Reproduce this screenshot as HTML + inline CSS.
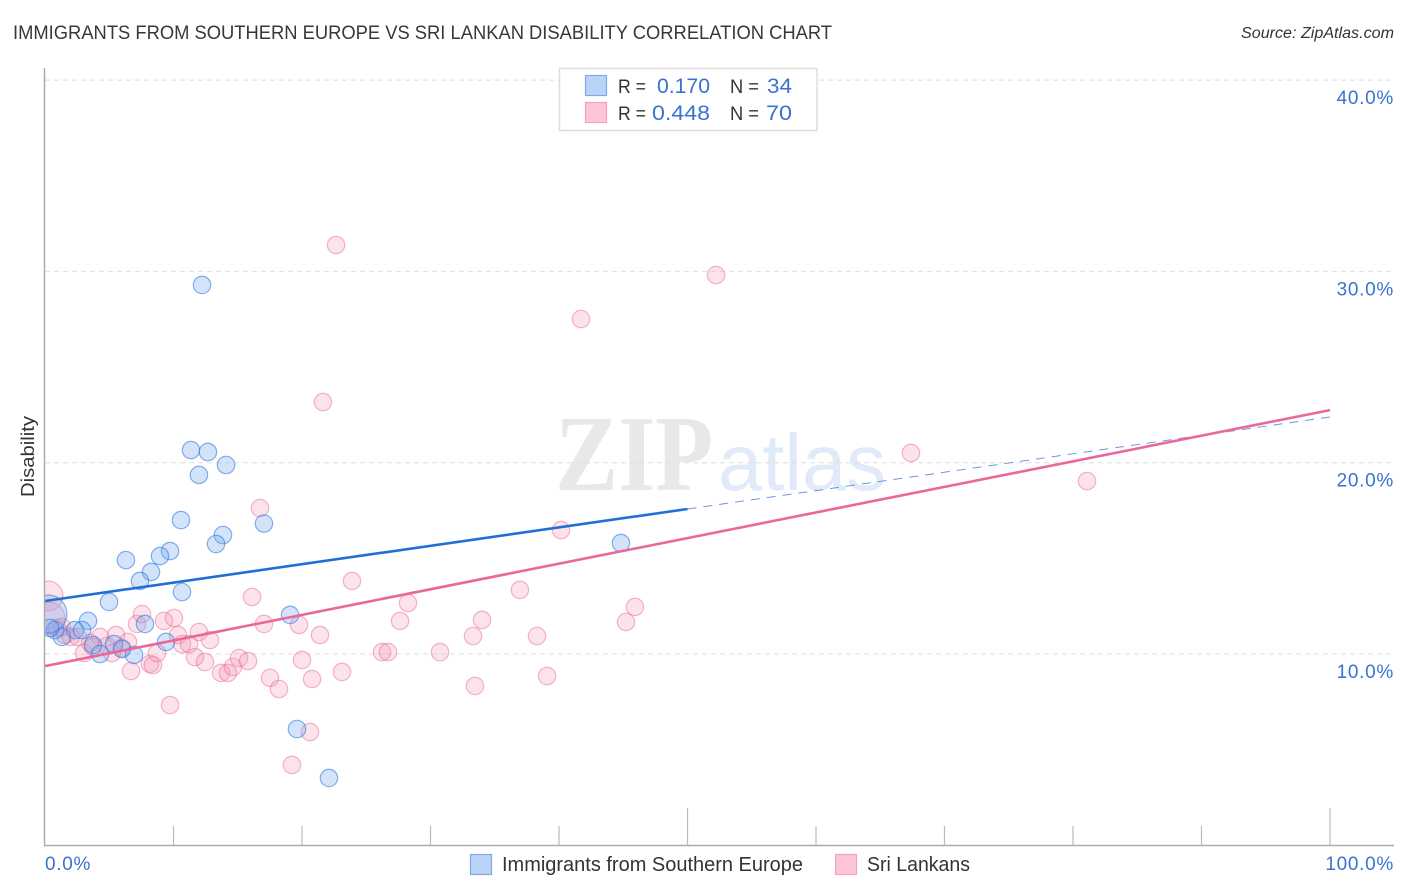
<!DOCTYPE html>
<html lang="en">
<head>
<meta charset="utf-8">
<title>Immigrants from Southern Europe vs Sri Lankan Disability Correlation Chart</title>
<style>
html,body{margin:0;padding:0;background:#fff;width:1406px;height:892px;overflow:hidden}
svg{display:block}
text{font-family:"Liberation Sans",sans-serif}
</style>
</head>
<body>
<svg id="chart" width="1406" height="892" viewBox="0 0 1406 892" xmlns="http://www.w3.org/2000/svg">
  <rect x="0" y="0" width="1406" height="892" fill="#fff"/>
  <text x="13" y="39" font-size="19" fill="#383838" textLength="819" lengthAdjust="spacingAndGlyphs">IMMIGRANTS FROM SOUTHERN EUROPE VS SRI LANKAN DISABILITY CORRELATION CHART</text>
  <text x="1394" y="38" font-size="15.5" font-style="italic" fill="#333" text-anchor="end" textLength="153" lengthAdjust="spacingAndGlyphs">Source: ZipAtlas.com</text>

  <g>
    <text x="555" y="490" font-size="108" font-weight="bold" style="font-family:'Liberation Serif',serif" fill="#e8e8e8" textLength="158" lengthAdjust="spacingAndGlyphs">ZIP</text>
    <text x="718" y="490" font-size="80" fill="#e0eaf9" textLength="168" lengthAdjust="spacingAndGlyphs">atlas</text>
  </g>

  <g id="grid"></g>
  <svg x="45" y="60" width="1350" height="785" viewBox="45 60 1350 785" overflow="hidden">
    <g id="pink-points"></g>
    <g id="blue-points"></g>
    <g id="trends"></g>
  </svg>

  <line x1="44.5" y1="68" x2="44.5" y2="845.5" stroke="#aaa" stroke-width="1.5"/>
  <line x1="44" y1="845.5" x2="1394" y2="845.5" stroke="#aaa" stroke-width="1.5"/>
  <g id="x-ticks"></g>
  <g id="y-labels"></g>
  <g id="x-labels"></g>

  <text transform="translate(34,456.5) rotate(-90)" font-size="18" fill="#333" text-anchor="middle" textLength="81" lengthAdjust="spacingAndGlyphs">Disability</text>

  <g>
    <rect x="559.5" y="68.5" width="257.5" height="62" fill="#fff" stroke="#ddd" stroke-width="1.5"/>
    <rect x="585.5" y="75.5" width="21" height="20" fill="#b9d4f7" stroke="#7faae6" stroke-width="1.2"/>
    <rect x="585.5" y="102.5" width="21" height="20" fill="#fcc6d8" stroke="#f2a3bf" stroke-width="1.2"/>
    <text x="618" y="93" font-size="19" fill="#333" textLength="28" lengthAdjust="spacingAndGlyphs">R =</text>
    <text x="657" y="93" font-size="21" fill="#3a72d0" textLength="53" lengthAdjust="spacingAndGlyphs">0.170</text>
    <text x="730" y="93" font-size="19" fill="#333" textLength="29" lengthAdjust="spacingAndGlyphs">N =</text>
    <text x="767" y="93" font-size="21" fill="#3a72d0" textLength="25" lengthAdjust="spacingAndGlyphs">34</text>
    <text x="618" y="120" font-size="19" fill="#333" textLength="28" lengthAdjust="spacingAndGlyphs">R =</text>
    <text x="652" y="120" font-size="21" fill="#3a72d0" textLength="58" lengthAdjust="spacingAndGlyphs">0.448</text>
    <text x="730" y="120" font-size="19" fill="#333" textLength="29" lengthAdjust="spacingAndGlyphs">N =</text>
    <text x="766" y="120" font-size="21" fill="#3a72d0" textLength="26" lengthAdjust="spacingAndGlyphs">70</text>
  </g>

  <g>
    <g>
      <rect x="470.5" y="854.5" width="21" height="20" fill="#b9d4f7" stroke="#7faae6" stroke-width="1.2"/>
      <text x="502" y="871" font-size="20" fill="#333" textLength="301" lengthAdjust="spacingAndGlyphs">Immigrants from Southern Europe</text>
    </g>
    <g>
      <rect x="835.5" y="854.5" width="21" height="20" fill="#fcc6d8" stroke="#f2a3bf" stroke-width="1.2"/>
      <text x="867" y="871" font-size="20" fill="#333" textLength="103" lengthAdjust="spacingAndGlyphs">Sri Lankans</text>
    </g>
  </g>
</svg>
<script>
const blueX = [12.22,11.36,12.68,14.09,11.98,10.58,17.04,13.85,13.31,44.82,9.73,8.95,6.30,8.25,7.39,10.66,4.98,19.07,3.35,7.78,2.33,2.88,9.42,3.74,5.37,5.99,4.28,6.93,19.61,22.10,1.32,0.78,0.23,0.39];
const blueY = [29.29,20.66,20.56,19.88,19.36,17.00,16.82,16.22,15.75,15.80,15.38,15.12,14.91,14.29,13.82,13.24,12.72,12.04,11.73,11.57,11.25,11.25,10.63,10.47,10.52,10.26,10.00,9.95,6.08,3.52,10.89,11.25,12.09,11.36];
const blueSize = [1,1,1,1,1,1,1,1,1,1,1,1,1,1,1,1,1,1,1,1,1,1,1,1,1,1,1,1,1,1,1,1,4.77,1];

const pinkX = [0.23,0.31,0.93,1.56,2.02,4.28,5.53,6.46,3.04,3.74,4.82,5.21,5.99,6.69,8.17,8.40,8.72,7.16,7.55,9.26,10.04,10.35,10.66,11.21,11.98,12.84,11.67,12.45,13.70,14.24,14.63,15.10,15.80,17.51,18.21,9.73,16.11,17.04,19.77,21.40,20.00,20.78,23.11,23.89,26.23,26.69,20.62,19.22,27.63,22.65,52.22,41.71,21.63,67.39,81.09,40.16,16.73,36.96,28.25,45.91,45.21,34.01,33.31,38.29,30.74,39.07,33.46,1.32,2.57,3.50];
const pinkY = [13.03,11.88,11.36,10.99,10.89,10.89,10.99,10.63,10.05,10.37,10.42,10.05,10.31,9.11,9.48,9.42,10.05,11.57,12.09,11.73,11.88,10.99,10.52,10.52,11.15,10.73,9.84,9.58,9.01,9.01,9.32,9.79,9.63,8.75,8.17,7.33,12.98,11.57,11.52,10.99,9.69,8.69,9.06,13.82,10.10,10.10,5.92,4.20,11.73,31.38,29.81,27.51,23.17,20.51,19.04,16.48,17.63,13.35,12.67,12.46,11.67,11.78,10.94,10.94,10.10,8.85,8.33,11.41,10.89,10.58];
const pinkSize = [2.97,3.38,1,1,1,1,1,1,1,1,1,1,1,1,1,1,1,1,1,1,1,1,1,1,1,1,1,1,1,1,1,1,1,1,1,1,1,1,1,1,1,1,1,1,1,1,1,1,1,1,1,1,1,1,1,1,1,1,1,1,1,1,1,1,1,1,1,1,1,1];

const blueTrendX = [0, 50];
const blueTrendY = [12.77, 17.58];
const blueDashX = [50, 100];
const blueDashY = [17.58, 22.39];
const pinkTrendX = [0, 100];
const pinkTrendY = [9.37, 22.75];

const yGridValues = [10, 20, 30, 40];
const yTickLabels = ['10.0%', '20.0%', '30.0%', '40.0%'];
const xTickValues = [10, 20, 30, 40, 50, 60, 70, 80, 90, 100];
const xMajorTicks = [50, 100];
const xEndValues = [0, 100];
const xEndLabels = ['0.0%', '100.0%'];

const NS = 'http://www.w3.org/2000/svg';
function xScale(v) { return 45 + v * 12.85; }
function yScale(v) { return 654 - (v - 10) * 19.13; }
function make(tag, attrs, parent) {
  const el = document.createElementNS(NS, tag);
  Object.keys(attrs).forEach(function (k) { el.setAttribute(k, attrs[k]); });
  parent.appendChild(el);
  return el;
}

const grid = document.getElementById('grid');
yGridValues.forEach(function (v) {
  const el = make('line', { x1: 45, x2: 1394, y1: yScale(v), y2: yScale(v), stroke: '#dedede', 'stroke-width': 1, 'stroke-dasharray': '5 4' }, grid);
  
  
});

const xTicks = document.getElementById('x-ticks');
xTickValues.forEach(function (v) {
  const top = xMajorTicks.indexOf(v) >= 0 ? 808 : 826;
  const el = make('line', { x1: xScale(v), x2: xScale(v), y1: top, y2: 845, stroke: '#bbb', 'stroke-width': 1.2 }, xTicks);
  
  
});

const yLabels = document.getElementById('y-labels');
yGridValues.forEach(function (v, i) {
  const el = make('text', { x: 1394, y: yScale(v) + 24, 'font-size': 19, fill: '#3a72d0', 'text-anchor': 'end', 'letter-spacing': '0.7' }, yLabels);
  el.textContent = yTickLabels[i];
  
  
});

const xLabels = document.getElementById('x-labels');
xEndValues.forEach(function (v, i) {
  const anchor = i === 0 ? 'start' : 'end';
  const px = i === 0 ? xScale(v) : 1394;
  const el = make('text', { x: px, y: 870, 'font-size': 19, fill: '#3a72d0', 'text-anchor': anchor, 'letter-spacing': '0.7' }, xLabels);
  el.textContent = xEndLabels[i];
  
  
});

function radius(size) { return 8.7 * Math.sqrt(size); }

const pinkGroup = document.getElementById('pink-points');
pinkX.forEach(function (v, i) {
  const el = make('circle', { cx: xScale(v), cy: yScale(pinkY[i]), r: radius(pinkSize[i]), fill: 'rgba(246,150,182,0.28)', stroke: 'rgba(234,110,150,0.5)', 'stroke-width': 1.2 }, pinkGroup);
  
  
});

const blueGroup = document.getElementById('blue-points');
blueX.forEach(function (v, i) {
  const el = make('circle', { cx: xScale(v), cy: yScale(blueY[i]), r: radius(blueSize[i]), fill: 'rgba(110,165,240,0.3)', stroke: 'rgba(50,120,220,0.58)', 'stroke-width': 1.2 }, blueGroup);
  
  
});

const trends = document.getElementById('trends');
const blueDash = make('line', { x1: xScale(blueDashX[0]), y1: yScale(blueDashY[0]), x2: xScale(blueDashX[1]), y2: yScale(blueDashY[1]), stroke: '#6c98de', 'stroke-width': 1, 'stroke-dasharray': '9 7' }, trends);


const blueLine = make('line', { x1: xScale(blueTrendX[0]), y1: yScale(blueTrendY[0]), x2: xScale(blueTrendX[1]), y2: yScale(blueTrendY[1]), stroke: '#1f6fd6', 'stroke-width': 2.6 }, trends);


const pinkLine = make('line', { x1: xScale(pinkTrendX[0]), y1: yScale(pinkTrendY[0]), x2: xScale(pinkTrendX[1]), y2: yScale(pinkTrendY[1]), stroke: '#ea6898', 'stroke-width': 2.6 }, trends);


</script>
</body>
</html>
